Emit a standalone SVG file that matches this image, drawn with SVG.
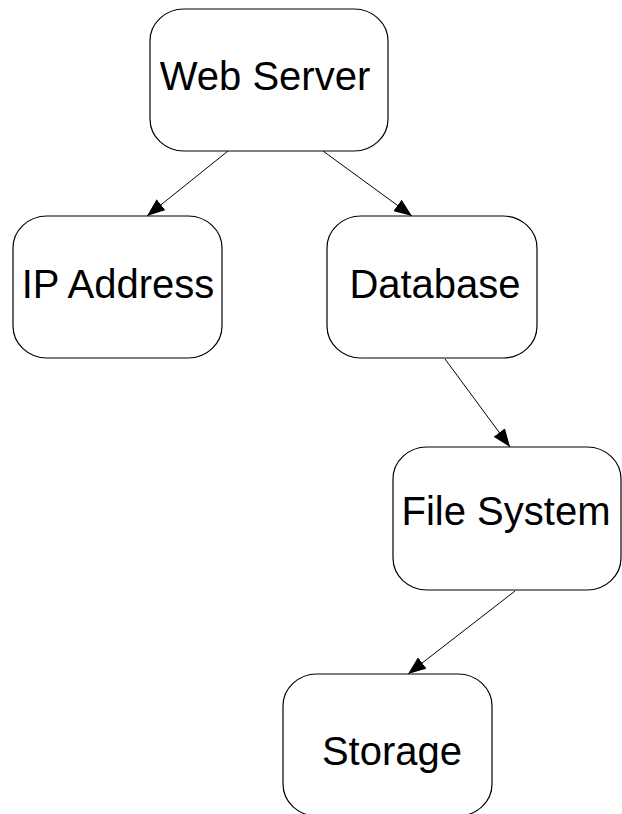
<svg xmlns="http://www.w3.org/2000/svg" width="622" height="814" viewBox="0 0 622 814">
  <style>
    .box { fill: #ffffff; stroke: #000000; stroke-width: 1.2; }
    .label { font-family: "Liberation Sans", Arial, sans-serif; font-size: 40px; fill: #000000; text-anchor: middle; }
    .edge { stroke: #000000; stroke-width: 1; fill: none; marker-end: url(#arrow); }
  </style>
  <defs>
    <marker id="arrow" viewBox="0 0 18 14" refX="18" refY="7" markerUnits="userSpaceOnUse" markerWidth="18" markerHeight="14" orient="auto">
      <path d="M0,0 L18,7 L0,14 z" fill="#000000"/>
    </marker>
  </defs>
  <rect width="622" height="814" fill="#ffffff"/>

  <g id="connectors">
    <line class="edge" x1="228" y1="151" x2="147" y2="216"/>
    <line class="edge" x1="323" y1="151" x2="412" y2="216"/>
    <line class="edge" x1="445" y1="359" x2="510" y2="447"/>
    <line class="edge" x1="515" y1="591" x2="408" y2="674"/>
  </g>

  <g id="web-server">
    <rect class="box" x="150" y="9" width="238" height="142" rx="34" ry="32"/>
    <text class="label" x="265" y="90">Web Server</text>
  </g>

  <g id="ip-address">
    <rect class="box" x="13" y="216" width="209" height="142" rx="34" ry="32"/>
    <text class="label" x="118" y="298">IP Address</text>
  </g>

  <g id="database">
    <rect class="box" x="327" y="216" width="210" height="142" rx="34" ry="32"/>
    <text class="label" x="435" y="298">Database</text>
  </g>

  <g id="file-system">
    <rect class="box" x="393" y="447" width="228" height="143" rx="34" ry="32"/>
    <text class="label" x="506" y="525">File System</text>
  </g>

  <g id="storage">
    <rect class="box" x="283" y="674" width="209" height="142" rx="34" ry="32"/>
    <text class="label" x="392" y="765">Storage</text>
  </g>
</svg>
